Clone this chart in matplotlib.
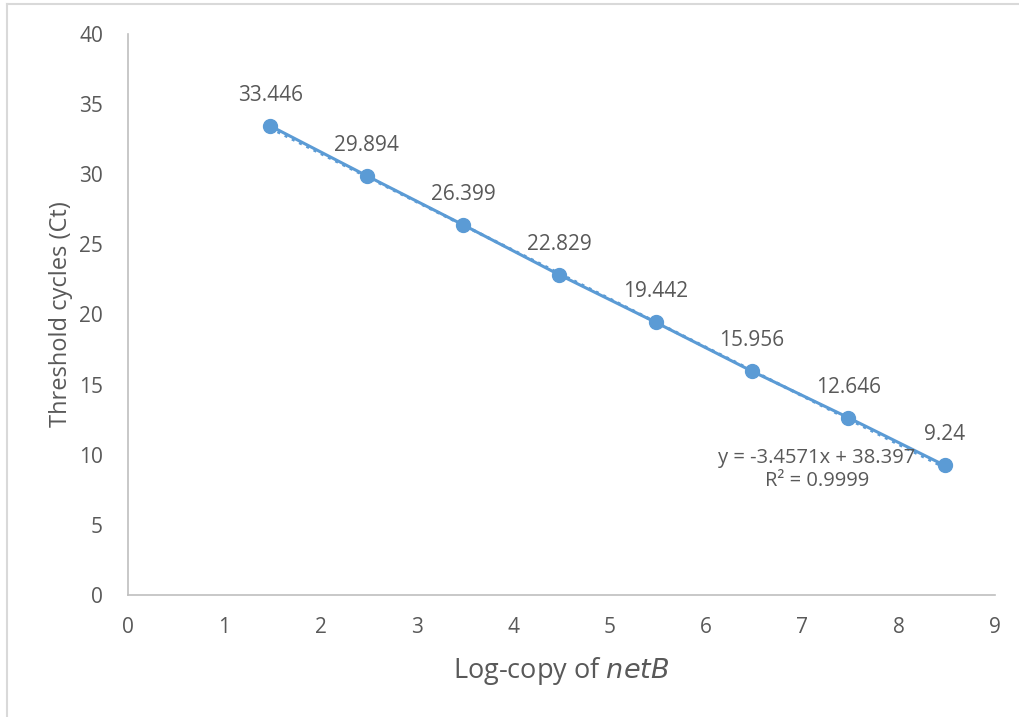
import numpy as np
import matplotlib.pyplot as plt
from matplotlib.lines import Line2D

# Datos (log-copias vs Ct)
log_copy = [1.477, 2.477, 3.477, 4.477, 5.477, 6.477, 7.477, 8.477]
ct = [33.446, 29.894, 26.399, 22.829, 19.442, 15.956, 12.646, 9.24]
ct_labels = ['33.446', '29.894', '26.399', '22.829', '19.442', '15.956', '12.646', '9.24']
slope, intercept = -3.4571, 38.397
eq_text = 'y = -3.4571x + 38.397\nR² = 0.9999'

COL = '#5B9BD5'
TXT = '#595959'
plt.rcParams['font.family'] = ['Open Sans', 'DejaVu Sans']

fig = plt.figure(figsize=(10.2, 7.17), dpi=100)
ax = fig.add_axes([0.1255, 0.1702, 0.85, 0.7824])

# Serie + línea de tendencia
ax.plot(log_copy, ct, '-o', color=COL, lw=2.2, ms=10, zorder=3)
xs = np.array([log_copy[0], log_copy[-1]])
ax.plot(xs, slope * xs + intercept, ':', color=COL, lw=2.2, zorder=2)

for x, y, lab in zip(log_copy, ct, ct_labels):
    ax.annotate(lab, (x, y), xytext=(0, 22), textcoords='offset points',
                ha='center', va='center', fontsize=15, color=TXT)

ax.text(7.15, 8.95, eq_text, ha='center', va='center', fontsize=14.5,
        color=TXT, linespacing=1.15)

ax.set_xlim(0, 9)
ax.set_ylim(0, 40)
ax.set_xticks(range(0, 10))
ax.set_yticks(range(0, 41, 5))
ax.tick_params(length=0, labelsize=15, colors=TXT)
ax.tick_params(axis='x', pad=16)
ax.tick_params(axis='y', pad=18)
for s in ['top', 'right']:
    ax.spines[s].set_visible(False)
for s in ['left', 'bottom']:
    ax.spines[s].set_color('#BFBFBF')
    ax.spines[s].set_linewidth(1.2)

ax.set_xlabel('Log-copy of $\\it{netB}$', fontsize=19.5, color=TXT, labelpad=12)
ax.set_ylabel('Threshold cycles (Ct)', fontsize=17, color=TXT, labelpad=4)

# Borde del área del gráfico
fig.add_artist(Line2D([0.007, 0.007], [0, 0.994], color='#D9D9D9', lw=1.5))
fig.add_artist(Line2D([0.007, 1], [0.994, 0.994], color='#D9D9D9', lw=1.5))

fig.savefig('out.png', dpi=100)
